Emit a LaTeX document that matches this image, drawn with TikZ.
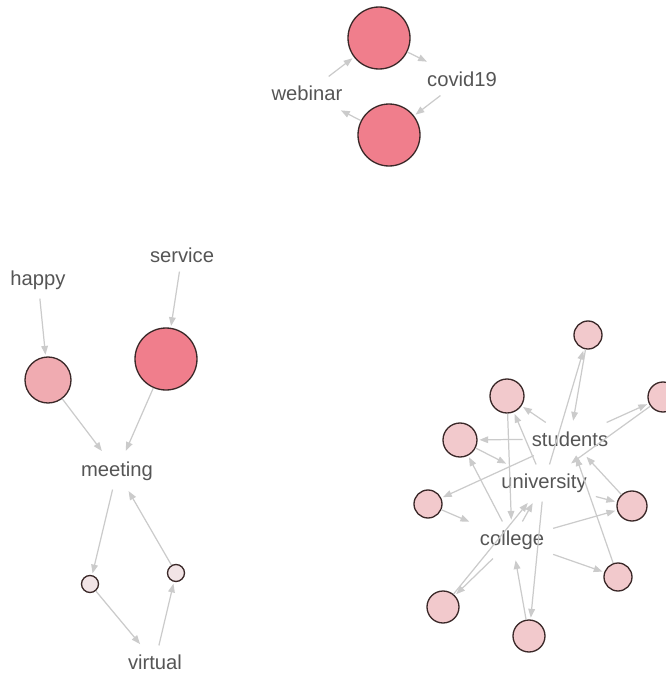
\documentclass[tikz,border=0pt]{standalone}
\usepackage{fontspec}
\setmainfont{Liberation Sans}
\usepackage{tikz}
\usetikzlibrary{arrows.meta}
\definecolor{vborder}{HTML}{3A2828}
\definecolor{vhot}{HTML}{F07E8C}
\definecolor{vwarm}{HTML}{F0ABB1}
\definecolor{vmild}{HTML}{F2C9CC}
\definecolor{vpale}{HTML}{F2E4E6}
\definecolor{edgegray}{HTML}{CBCBCB}
\definecolor{labelgray}{HTML}{555555}
\tikzset{
  vtx/.style={circle,draw=vborder,line width=0.75pt,inner sep=0pt},
  word/.style={text=labelgray,inner sep=5pt},
  link/.style={draw=edgegray,line width=0.7pt,-{Triangle[length=5pt,width=3.8pt]},shorten >=1pt}
}

\begin{document}
\begin{tikzpicture}[x=0.02cm,y=-0.02cm,line join=round,font=\fontsize{11.5}{13}\selectfont]
\useasboundingbox (0,0) rectangle (666,673);
% --- webinar / covid19
\node[vtx,fill=vhot,minimum size=1.24cm] (wtop) at (379,38) {};
\node[vtx,fill=vhot,minimum size=1.24cm] (wbot) at (389,135) {};
\node[word] (webinar) at (307,93) {webinar};
\node[word] (covid) at (462,79) {covid19};
\draw[link] (webinar) -- (wtop);
\draw[link] (wtop) -- (covid);
\draw[link] (covid) -- (wbot);
\draw[link] (wbot) -- (webinar);
% --- meeting group
\node[word] (happy) at (38,280) {happy};
\node[word] (service) at (182,255) {service};
\node[vtx,fill=vwarm,minimum size=0.92cm] (hcirc) at (48,380) {};
\node[vtx,fill=vhot,minimum size=1.24cm] (scirc) at (166,359) {};
\node[word] (meeting) at (117,471) {meeting};
\node[vtx,fill=vpale,minimum size=0.34cm] (sleft) at (90,584) {};
\node[vtx,fill=vpale,minimum size=0.34cm] (sright) at (176,573) {};
\node[word] (virtual) at (155,662) {virtual};
\draw[link] (happy) -- (hcirc);
\draw[link] (service) -- (scirc);
\draw[link] (hcirc) -- (meeting);
\draw[link] (scirc) -- (meeting);
\draw[link] (meeting) -- (sleft);
\draw[link] (sleft) -- (virtual);
\draw[link] (virtual) -- (sright);
\draw[link] (sright) -- (meeting);
% --- students / university / college
\node[vtx,fill=vmild,minimum size=0.56cm] (c1) at (588,335) {};
\node[vtx,fill=vmild,minimum size=0.68cm] (c2) at (507,396) {};
\node[vtx,fill=vmild,minimum size=0.60cm] (c3) at (663,397) {};
\node[vtx,fill=vmild,minimum size=0.68cm] (c4) at (460,440) {};
\node[vtx,fill=vmild,minimum size=0.56cm] (c5) at (428,504) {};
\node[vtx,fill=vmild,minimum size=0.60cm] (c6) at (632,506) {};
\node[vtx,fill=vmild,minimum size=0.56cm] (c7) at (618,577) {};
\node[vtx,fill=vmild,minimum size=0.64cm] (c8) at (443,607) {};
\node[vtx,fill=vmild,minimum size=0.64cm] (c9) at (529,636) {};
\node[word] (students) at (570,439) {students};
\node[word] (univ) at (544,483) {university};
\node[word] (college) at (512,540) {college};
\draw[link] (univ) -- (c1);
\draw[link] (c1) -- (students);
\draw[link] (students) -- (c2);
\draw[link] (univ) -- (c2);
\draw[link] (students) -- (c4);
\draw[link] (students) -- (c3);
\draw[link] (c3) -- (univ);
\draw[link] (students) -- (c5);
\draw[link] (c4) -- (univ);
\draw[link] (college) -- (c4);
\draw[link] (c2) -- (college);
\draw[link] (c5) -- (college);
\draw[link] (college) -- (univ);
\draw[link] (univ) -- (c6);
\draw[link] (college) -- (c6);
\draw[link] (c6) -- (students);
\draw[link] (c7) -- (students);
\draw[link] (college) -- (c7);
\draw[link] (univ) -- (c9);
\draw[link] (c9) -- (college);
\draw[link] (college) -- (c8);
\draw[link] (c8) -- (univ);
\end{tikzpicture}
\end{document}
